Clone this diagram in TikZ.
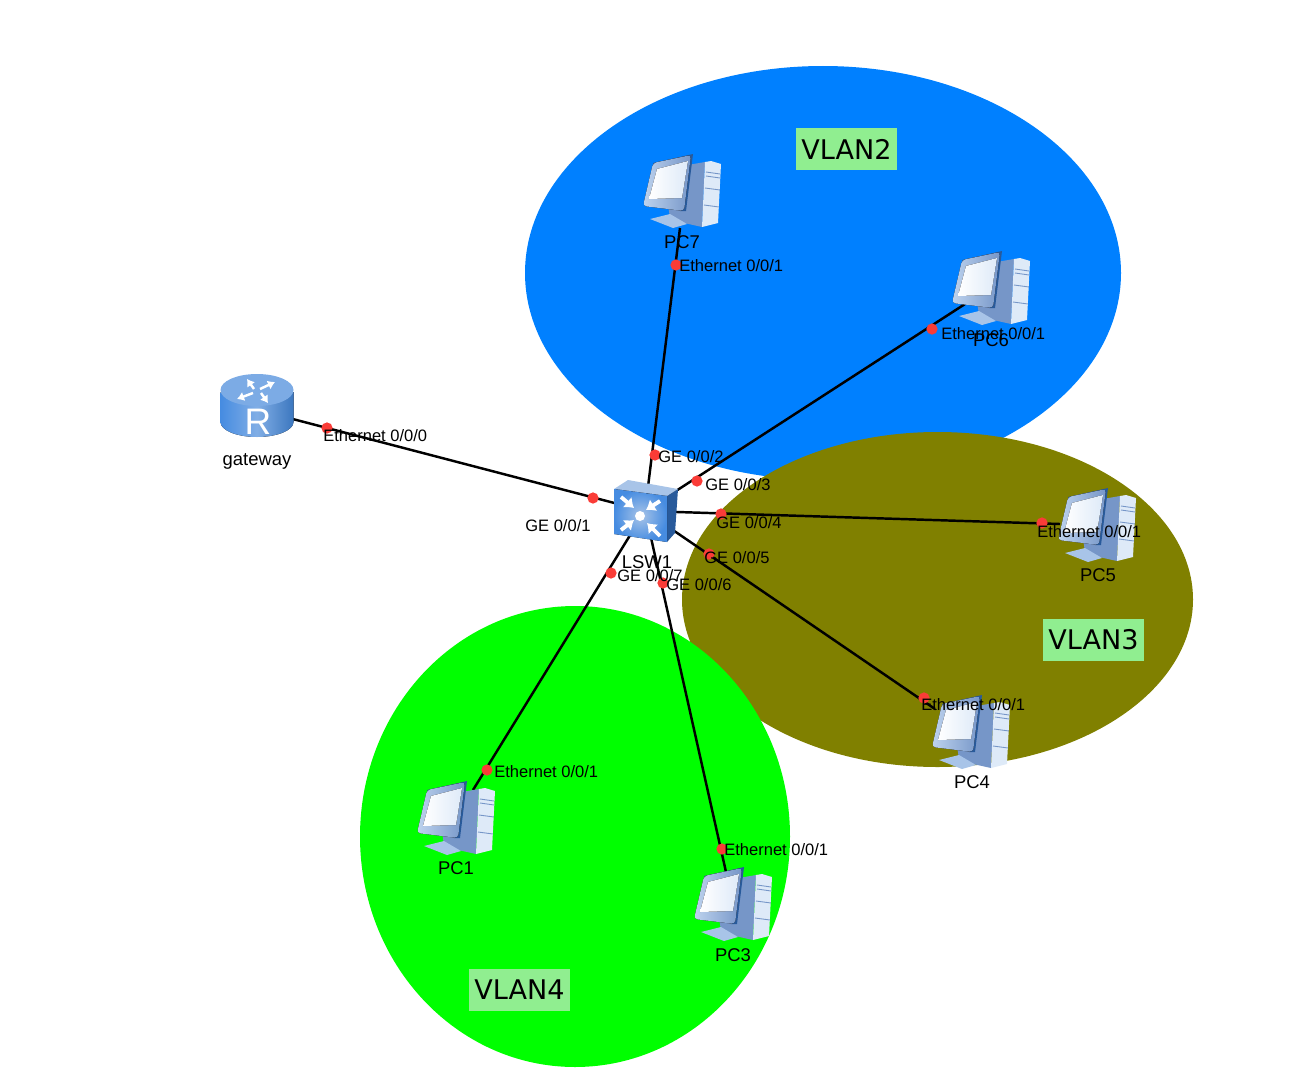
\documentclass[tikz,border=0pt]{standalone}
\usepackage{fontspec}
\usetikzlibrary{arrows.meta}
\setmainfont{Liberation Sans}
\newfontfamily\vlanfont{DejaVu Sans}
\definecolor{vlanblue}{RGB}{0,128,255}
\definecolor{vlanolive}{RGB}{128,128,0}
\definecolor{vlangreen}{RGB}{0,255,0}
\definecolor{tagbg}{RGB}{144,238,144}
\definecolor{portred}{RGB}{250,60,55}
\definecolor{iconlight}{RGB}{222,234,248}
\definecolor{iconmid}{RGB}{168,196,232}
\definecolor{icondark}{RGB}{118,150,200}
\definecolor{iconedge}{RGB}{40,90,155}
\definecolor{iconbody}{RGB}{70,140,225}
\tikzset{
  link/.style={black, line width=1.4pt},
  portdot/.style={circle, fill=portred, inner sep=0pt, minimum size=6.4pt},
  portlabel/.style={anchor=west, inner sep=0pt, font=\fontsize{9.4}{11}\selectfont},
  devlabel/.style={inner sep=0pt, font=\fontsize{10.5}{12}\selectfont},
  vlantag/.style={fill=tagbg, minimum width=57.5pt, minimum height=23.4pt, inner sep=0pt, font=\vlanfont\fontsize{15.4}{18}\selectfont},
  whitearrow/.style={white, line width=1.4pt, -{Latex[length=4pt,width=5.5pt]}},
  switcharrow/.style={white, line width=2.2pt, -{Latex[length=5pt,width=8pt]}},
  pcicon/.pic={
    % tower and side
    \fill[icondark] (0,-25) -- (23,-29) -- (20,36) -- (-7,30) -- (0,13) -- cycle;
    \fill[iconlight] (23,-29) -- (29,-30) -- (39,-27) -- (36,32) -- (20,36) -- cycle;
    \draw[icondark, line width=.5pt] (24,-19) -- (38,-17) (24,-15) -- (38,-13) (23,-3) -- (38,-1) (22,14) -- (37,16);
    % stand
    \fill[icondark] (-14,14) -- (2,14) -- (3,28) -- (-12,27) -- cycle;
    \fill[iconmid] (-32,28) -- (-12,23) -- (5,33) -- (-9,37) -- cycle;
    % monitor
    \fill[iconedge] (-29,-28) -- (11,-37) -- (4,20) -- (-2,20) -- cycle;
    \fill[left color=iconmid!75!white, right color=icondark, rounded corners=2pt] (-29,-28) -- (9,-36) -- (2,20) -- (-39,15) -- cycle;
    \fill[left color=white, right color=iconlight] (-25,-22) -- (6,-30) -- (0,7) -- (-33,8) -- cycle;
  },
  routericon/.pic={
    \fill[left color=iconbody, right color=iconbody!85!black, middle color=iconmid!60!iconbody] (-36.5,-15) -- (-36.5,15) arc[start angle=180, end angle=0, x radius=36.5, y radius=15] -- (36.5,-15) -- cycle;
    \fill[iconmid!55!iconbody] (0,-17) ellipse[x radius=36.5, y radius=16];
    \draw[whitearrow] (-3,-18) -- (-10,-28);
    \draw[whitearrow] (3,-18) -- (18,-25);
    \draw[whitearrow] (-4,-14) -- (-20,-8);
    \draw[whitearrow] (4,-14) -- (11,-4);
    \node[white, inner sep=0pt, font=\fontsize{21}{24}\selectfont] (rlogo) at (1,15) {R};
  },
  switchicon/.pic={
    \fill[iconedge] (22,-15) -- (33,-22) -- (30,22) -- (22,31) -- cycle;
    \fill[iconmid] (-31,-22) -- (-17,-31) -- (33,-22) -- (22,-15) -- cycle;
    \fill[inner color=iconmid, outer color=iconbody] (-31,-22) -- (22,-15) -- (22,31) -- (-31,23) -- cycle;
    \draw[switcharrow] (-24,-14) -- (-11,-3);
    \draw[switcharrow] (15,-10) -- (1,-1);
    \draw[switcharrow] (-24,19) -- (-11,9);
    \draw[switcharrow] (15,25) -- (2,12);
    \fill[white] (-5,5) circle[radius=5];
  },
}

\begin{document}
\begin{tikzpicture}[x=0.02cm, y=-0.02cm]
\useasboundingbox (0,0) rectangle (1308,1088);
% vlan areas
\fill[vlanblue]  (823,273) ellipse[x radius=298, y radius=207];
\fill[vlanolive] (937.5,599.5) ellipse[x radius=255.5, y radius=167.5];
\fill[vlangreen] (575,836.5) ellipse[x radius=215, y radius=230.5];
\node[vlantag] (vlan2) at (846.5,149)  {VLAN2};
\node[vlantag] (vlan3) at (1093.5,640) {VLAN3};
\node[vlantag] (vlan4) at (519.5,990)  {VLAN4};
% link ends at the devices
\coordinate (lsw) at (645,511);
\coordinate (gateway) at (285,417);
\foreach \dev/\x/\y in {pc7/680/228, pc6/965/304, pc5/1060/524, pc4/935/709, pc1/473/790, pc3/726/872} {
  \coordinate (\dev) at (\x,\y);
}
% links
\foreach \dev in {gateway,pc7,pc6,pc5,pc4,pc1,pc3} {
  \draw[link] (lsw) -- (\dev);
}
% icons
\pic at (257,407) {routericon};
\pic at (lsw) {switchicon};
\foreach \x/\y in {682/191, 991/288, 1097/525, 971/732, 456/818, 733/904} {
  \pic at (\x,\y) {pcicon};
}
% device labels
\foreach \dev/\txt/\x/\y in {gateway/gateway/257/461, lsw/LSW1/647/562, pc7/PC7/682/242, pc6/PC6/991/340,
    pc5/PC5/1098/575, pc4/PC4/972/782, pc1/PC1/456/868, pc3/PC3/733/955} {
  \node[devlabel] (\dev label) at (\x,\y) {\txt};
}
% ports
\foreach \p/\x/\y in {a/327/428, b/593/498, c/655/455, d/697/481, e/721/514, f/709/554, g/663/583, h/611/573,
    i/676/265, j/932/329, k/1042/523, l/924/698, m/487/770, n/722/849} {
  \node[portdot] (dot\p) at (\x,\y) {};
}
\foreach \p/\txt/\x/\y in {a/{Ethernet 0/0/0}/323/436, b/{GE 0/0/1}/525/526, c/{GE 0/0/2}/658/457,
    d/{GE 0/0/3}/705/485, e/{GE 0/0/4}/716/523, f/{GE 0/0/5}/704/558,
    g/{GE 0/0/6}/666/585, h/{GE 0/0/7}/617/576, i/{Ethernet 0/0/1}/679/266,
    j/{Ethernet 0/0/1}/941/334, k/{Ethernet 0/0/1}/1037/532, l/{Ethernet 0/0/1}/921/705,
    m/{Ethernet 0/0/1}/494/772, n/{Ethernet 0/0/1}/724/850} {
  \node[portlabel] (port\p) at (\x,\y) {\txt};
}
\end{tikzpicture}
\end{document}
